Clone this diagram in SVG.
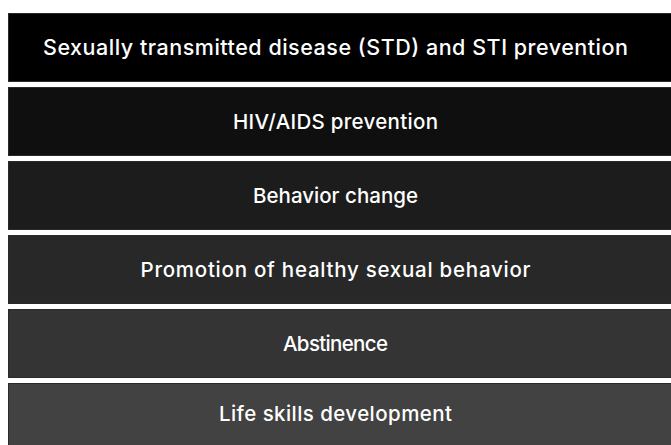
<svg xmlns="http://www.w3.org/2000/svg" width="671" height="445" viewBox="0 0 671 445">
<style>
.box{stroke:#2a2a2a;stroke-width:1}
.lbl{font-family:Inter,"Liberation Sans",Arial,sans-serif;font-size:20.5px;font-weight:500;fill:#ffffff;text-anchor:middle}
.big{font-size:21.5px}
</style>
<rect width="671" height="445" fill="#ffffff"/>
<g id="connectors"></g>
<g id="n1"><rect class="box" x="8.5" y="13.5" width="680" height="68" fill="#000000"/><text class="lbl big" x="335.5" y="55" textLength="585">Sexually transmitted disease (STD) and STI prevention</text></g>
<g id="n2"><rect class="box" x="8.5" y="87.5" width="680" height="68" fill="#0f0f0f"/><text class="lbl" x="335.5" y="129" textLength="205">HIV/AIDS prevention</text></g>
<g id="n3"><rect class="box" x="8.5" y="161.5" width="680" height="68" fill="#1c1c1c"/><text class="lbl" x="335.5" y="203" textLength="165">Behavior change</text></g>
<g id="n4"><rect class="box" x="8.5" y="235.5" width="680" height="68" fill="#282828"/><text class="lbl" x="335.5" y="277" textLength="390">Promotion of healthy sexual behavior</text></g>
<g id="n5"><rect class="box" x="8.5" y="309.5" width="680" height="68" fill="#343434"/><text class="lbl" x="335.5" y="351" textLength="105">Abstinence</text></g>
<g id="n6"><rect class="box" x="8.5" y="383.5" width="680" height="68" fill="#424242"/><text class="lbl" x="335.5" y="421" textLength="233">Life skills development</text></g>
</svg>
